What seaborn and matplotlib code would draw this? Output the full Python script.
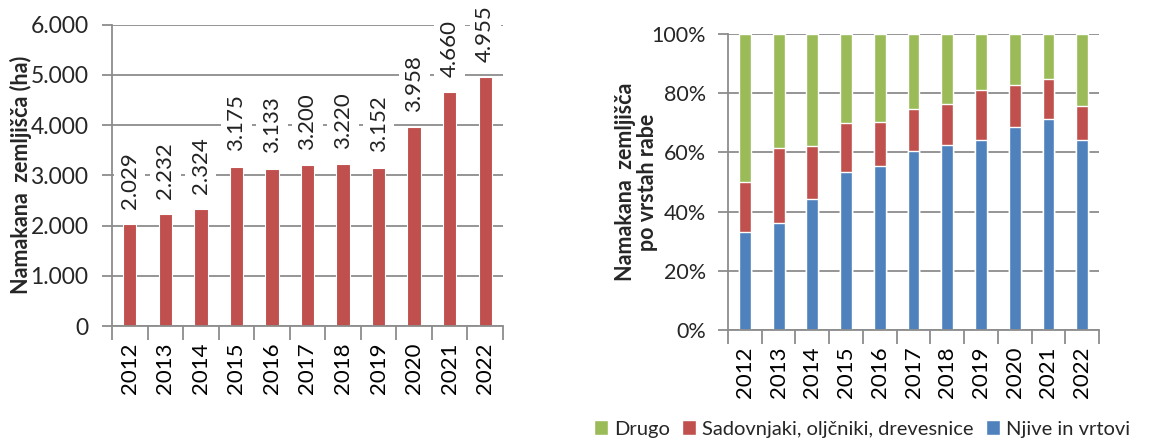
import numpy as np
import pandas as pd
import matplotlib
matplotlib.use("Agg")
import matplotlib.pyplot as plt
from matplotlib.ticker import FuncFormatter, FixedLocator
from matplotlib.patches import Patch
import seaborn as sns

# Data
years = ["2012", "2013", "2014", "2015", "2016", "2017", "2018", "2019", "2020", "2021", "2022"]
total_ha = [2029, 2232, 2324, 3175, 3133, 3200, 3220, 3152, 3958, 4660, 4955]

njive_pct = [33.2, 36.3, 44.2, 53.5, 55.5, 60.6, 62.5, 64.0, 68.6, 71.1, 64.0]
sadovnjaki_pct = [16.8, 25.0, 17.8, 16.3, 14.9, 13.9, 13.8, 16.9, 14.2, 13.8, 11.7]
drugo_pct = [50.0, 38.7, 38.0, 30.2, 29.6, 25.5, 23.7, 19.1, 17.2, 15.1, 24.3]

series_names = ["Drugo", "Sadovnjaki, oljčniki, drevesnice", "Njive in vrtovi"]

RED = "#C0504D"
BLUE = "#4F81BD"
GREEN = "#9BBB59"
GRID = "#8C8C8C"

sns.set_theme(style="white")
plt.rcParams["font.family"] = ["Lato", "DejaVu Sans"]

fig = plt.figure(figsize=(11.63, 4.4), dpi=100)
ax1 = fig.add_axes([0.0963, 0.259, 0.3362, 0.685])
ax2 = fig.add_axes([0.626, 0.25, 0.319, 0.673])


def style_axis(ax, ypad, ysize):
    ax.set_axisbelow(True)
    ax.yaxis.grid(True, color=GRID, linewidth=1.3)
    ax.xaxis.grid(False)
    for s in ["top", "right"]:
        ax.spines[s].set_visible(False)
    for s in ["left", "bottom"]:
        ax.spines[s].set_color(GRID)
        ax.spines[s].set_linewidth(1.3)
    n = len(years)
    ax.set_xlim(-0.5, n - 0.5)
    ax.xaxis.set_minor_locator(FixedLocator(np.arange(-0.5, n, 1.0)))
    ax.tick_params(axis="x", which="major", length=0, labelrotation=90,
                   labelsize=16, pad=12, colors="black")
    ax.tick_params(axis="x", which="minor", length=10, width=1.3,
                   color=GRID, bottom=True)
    ax.tick_params(axis="y", which="major", length=7, width=1.3,
                   color=GRID, left=True, labelsize=ysize, pad=ypad)
    ax.set_xlabel("")


# Left chart: total irrigated area
df1 = pd.DataFrame({"leto": years, "ha": total_ha})
sns.barplot(data=df1, x="leto", y="ha", color=RED, saturation=1,
            width=0.375, ax=ax1, edgecolor="white", linewidth=0.8)
style_axis(ax1, 10, 16.5)
ax1.set_ylim(0, 6000)
ax1.set_yticks(range(0, 6001, 1000))
ax1.yaxis.set_major_formatter(FuncFormatter(lambda v, p: f"{int(v):,}".replace(",", ".")))
ax1.set_ylabel("Namakana  zemljišča (ha)", fontsize=15.5, fontweight="bold")
ax1.yaxis.set_label_coords(-0.205, 0.5)
for i, v in enumerate(total_ha):
    ax1.annotate(f"{v:,}".replace(",", "."), (i, v), xytext=(0, 11),
                 textcoords="offset points", rotation=90, ha="center",
                 va="bottom", fontsize=16, color="#222222",
                 bbox=dict(boxstyle="square,pad=0.25", fc="white", ec="none"))

# Right chart: share by land use (stacked)
blue_arr = np.array(njive_pct)
red_arr = np.array(sadovnjaki_pct)
green_arr = np.array(drugo_pct)
stack = [
    (blue_arr + red_arr + green_arr, GREEN),
    (blue_arr + red_arr, RED),
    (blue_arr, BLUE),
]
for vals, col in stack:
    d = pd.DataFrame({"leto": years, "pct": vals})
    sns.barplot(data=d, x="leto", y="pct", color=col, saturation=1,
                width=0.35, ax=ax2, edgecolor="white", linewidth=1.0)
style_axis(ax2, 9, 15.5)
ax2.set_ylim(0, 100)
ax2.set_yticks(range(0, 101, 20))
ax2.yaxis.set_major_formatter(FuncFormatter(lambda v, p: f"{int(v)}%"))
ax2.set_ylabel("Namakana  zemljišča\npo vrstah rabe", fontsize=15.5,
               fontweight="bold", linespacing=1.05)
ax2.yaxis.set_label_coords(-0.19, 0.5)

handles = [Patch(facecolor=GREEN), Patch(facecolor=RED), Patch(facecolor=BLUE)]
fig.legend(handles, series_names, loc="center", bbox_to_anchor=(862 / 1163, 0.025),
           ncol=3, frameon=False, fontsize=14.5, handlelength=0.7, handleheight=0.7,
           handletextpad=0.3, columnspacing=0.6)

fig.savefig("out.png", dpi=100)
